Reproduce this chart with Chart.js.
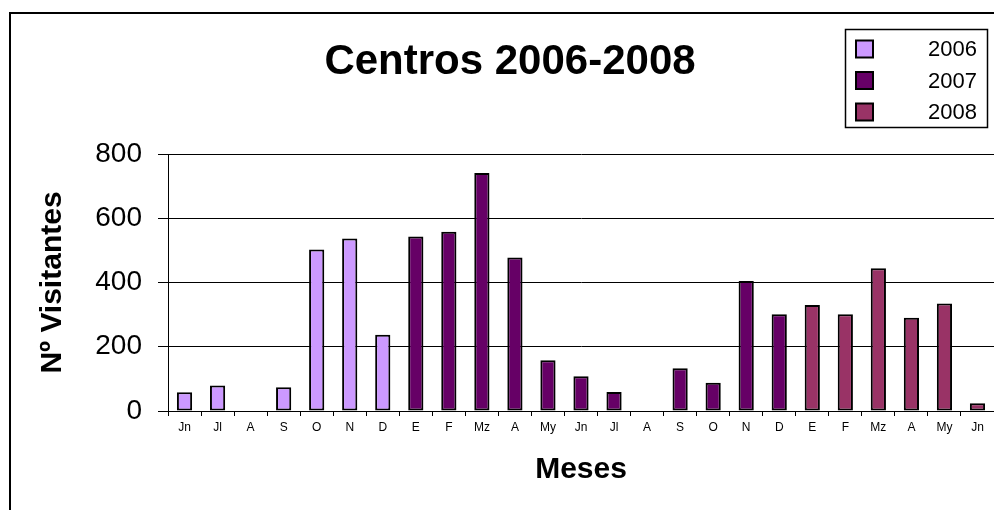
<!DOCTYPE html>
<html>
<head>
<meta charset="utf-8">
<script src="https://cdn.jsdelivr.net/npm/chart.js@4/dist/chart.umd.min.js"></script>
<style>
  body { margin: 0; background: #fff; }
</style>
</head>
<body>
<canvas id="myChart" width="994" height="510"></canvas>
<script>
// months shown per year
const months2006 = ['Jn', 'Jl', 'A', 'S', 'O', 'N', 'D'];
const months2007 = ['E', 'F', 'Mz', 'A', 'My', 'Jn', 'Jl', 'A', 'S', 'O', 'N', 'D'];
const months2008 = ['E', 'F', 'Mz', 'A', 'My', 'Jn'];

// visitors
const visits2006 = [58, 79, 0, 74, 503, 537, 237];
const visits2007 = [543, 558, 741, 478, 158, 108, 59, 0, 133, 88, 405, 301];
const visits2008 = [330, 301, 444, 290, 335, 24];

const yTicks = [0, 200, 400, 600, 800];

const labels = months2006.concat(months2007, months2008);
const blank = n => new Array(n).fill(null);

const n6 = months2006.length, n7 = months2007.length, n8 = months2008.length;

const font = 'Liberation Sans, Arial, sans-serif';

// title, legend and outer frame
const decor = {
  id: 'decor',
  afterDraw(chart) {
    const ctx = chart.ctx;
    ctx.save();
    ctx.strokeStyle = '#000';
    ctx.lineWidth = 2;
    ctx.strokeRect(10, 13, 1100, 700);

    ctx.fillStyle = '#000';
    ctx.font = 'bold 42px ' + font;
    ctx.textAlign = 'center';
    ctx.textBaseline = 'middle';
    ctx.fillText('Centros 2006-2008', 510, 62);

    // legend box
    ctx.lineWidth = 1.5;
    ctx.strokeRect(845.5, 29.5, 142, 98);
    ctx.font = '22px ' + font;
    ctx.textAlign = 'right';
    chart.data.datasets.forEach((ds, i) => {
      const cy = 49 + i * 31.5;
      ctx.fillStyle = ds.backgroundColor;
      ctx.fillRect(856, cy - 8.5, 17, 17);
      ctx.lineWidth = 2;
      ctx.strokeRect(856, cy - 8.5, 17, 17);
      ctx.fillStyle = '#000';
      ctx.fillText(ds.label, 977, cy + 1);
    });
    ctx.restore();
  }
};

new Chart(document.getElementById('myChart'), {
  type: 'bar',
  data: {
    labels: labels,
    datasets: [
      {
        label: '2006',
        data: visits2006.concat(blank(n7 + n8)),
        backgroundColor: '#CC99FF'
      },
      {
        label: '2007',
        data: blank(n6).concat(visits2007, blank(n8)),
        backgroundColor: '#660066'
      },
      {
        label: '2008',
        data: blank(n6 + n7).concat(visits2008),
        backgroundColor: '#993366'
      }
    ]
  },
  options: {
    responsive: false,
    animation: false,
    layout: { padding: { left: 12, right: 0, top: 154, bottom: 0 } },
    datasets: {
      bar: {
        grouped: false,
        barPercentage: 0.46,
        categoryPercentage: 1,
        borderColor: '#000',
        borderWidth: 2,
        borderSkipped: false
      }
    },
    plugins: {
      legend: { display: false },
      title: { display: false },
      tooltip: { enabled: false }
    },
    scales: {
      x: {
        afterFit: s => { s.height = 99; },
        grid: {
          offset: true,
          drawOnChartArea: false,
          color: '#000',
          tickLength: 5
        },
        border: { color: '#000', width: 1 },
        ticks: {
          color: '#000',
          font: { family: font, size: 12 },
          padding: 4,
          maxRotation: 0,
          autoSkip: false
        },
        title: {
          display: true,
          text: 'Meses',
          color: '#000',
          font: { family: font, size: 30, weight: 'bold' },
          padding: { top: 0, bottom: 22 }
        }
      },
      y: {
        min: yTicks[0],
        max: yTicks[yTicks.length - 1],
        afterFit: s => { s.width = 156; },
        afterBuildTicks: s => { s.ticks = yTicks.map(v => ({ value: v })); },
        grid: { color: '#000', tickLength: 10 },
        border: { color: '#000', width: 1 },
        ticks: {
          color: '#000',
          font: { family: font, size: 28 },
          padding: 16
        },
        title: {
          display: true,
          text: 'Nº Visitantes',
          color: '#000',
          font: { family: font, size: 30, weight: 'bold' },
          padding: { top: 23, bottom: 0 }
        }
      }
    }
  },
  plugins: [decor]
});
</script>
</body>
</html>
